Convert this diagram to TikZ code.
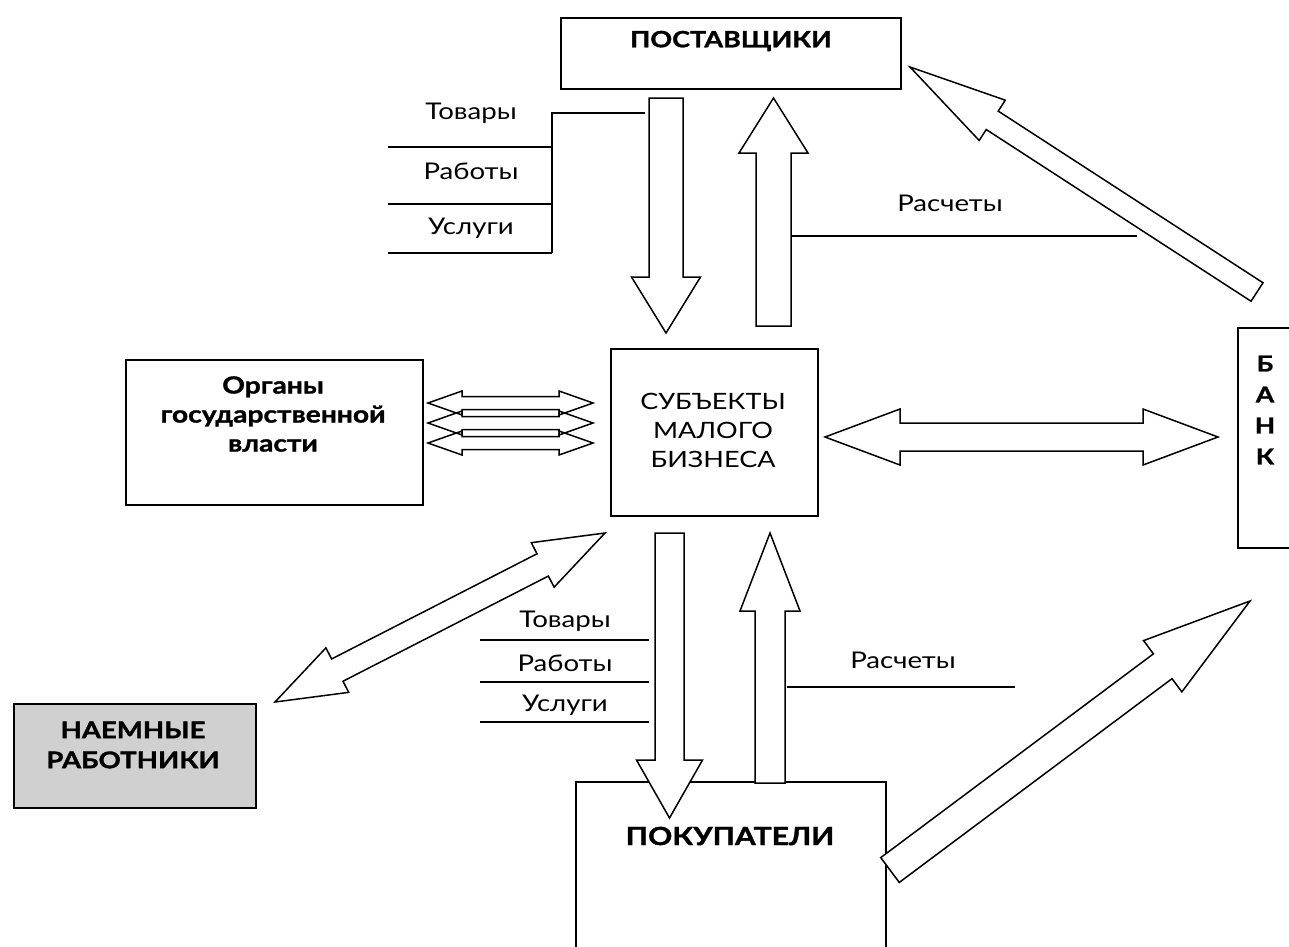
\documentclass[tikz,border=0pt]{standalone}
\usepackage{fontspec}
\setmainfont{Lato}[FakeStretch=1.2, BoldFeatures={FakeBold=1.3}]
\usetikzlibrary{calc}
\definecolor{boxgray}{RGB}{208,208,208}
\tikzset{
  box/.style={draw, line width=1.8pt, inner sep=0pt},
  lbl/.style={font=\fontsize{23}{26}\selectfont, inner sep=0pt},
  blbl/.style={font=\fontsize{23}{30}\selectfont\bfseries, inner sep=0pt, align=center},
  rlbl/.style={font=\fontsize{22.5}{29}\selectfont, inner sep=0pt, align=center},
  barrow/.style={draw, line width=1.5pt, fill=white, line join=miter},
  oarrow/.style={draw, line width=1.5pt, line join=miter},
  rule/.style={line width=1.8pt}
}
\newcommand\singlearrow[5]{% tail, tip, shaft half, head half, head length
  \path ($(#2)!#5!(#1)$) coordinate (hb);
  \draw[barrow] ($(#1)!#3!90:(#2)$) -- ($(hb)!#3!90:(#2)$) -- ($(hb)!#4!90:(#2)$) -- (#2)
    -- ($(hb)!#4!-90:(#2)$) -- ($(hb)!#3!-90:(#2)$) -- ($(#1)!#3!-90:(#2)$) -- cycle;
}
\newcommand\doublearrow[6]{% A, B, shaft half, head half, head length, style
  \path ($(#1)!#5!(#2)$) coordinate (ha) ($(#2)!#5!(#1)$) coordinate (hb);
  \draw[#6] (#1) -- ($(ha)!#4!90:(#2)$) -- ($(ha)!#3!90:(#2)$) -- ($(hb)!#3!90:(#2)$)
    -- ($(hb)!#4!90:(#2)$) -- (#2) -- ($(hb)!#4!-90:(#2)$) -- ($(hb)!#3!-90:(#2)$)
    -- ($(ha)!#3!-90:(#2)$) -- ($(ha)!#4!-90:(#2)$) -- cycle;
}
\begin{document}
\begin{tikzpicture}[x=1pt,y=-1pt]
\useasboundingbox (0,0) rectangle (1289,946);

% boxes
\node[box, anchor=north west, minimum width=340pt, minimum height=71pt] (post) at (560,17) {};
\node[box, anchor=north west, minimum width=297pt, minimum height=145pt] (gov) at (125,359) {};
\node[box, anchor=north west, minimum width=207pt, minimum height=167pt] (smb) at (610,348) {};
\node[box, anchor=north west, minimum width=80pt, minimum height=220pt] (bank) at (1237,327) {};
\node[box, fill=boxgray, anchor=north west, minimum width=242pt, minimum height=104pt] (hire) at (13,703) {};
\node[box, anchor=north west, minimum width=310pt, minimum height=200pt] (buy) at (575,781) {};

% box texts
\node[blbl, font=\fontsize{22.5}{30}\selectfont\bfseries] (postt) at (731,41) {ПОСТАВЩИКИ};
\node[blbl, font=\fontsize{23.5}{29}\selectfont\bfseries] (govt) at (273,414) {Органы\\государственной\\власти};
\node[rlbl] (smbt) at (713,430) {СУБЪЕКТЫ\\МАЛОГО\\БИЗНЕСА};
\node[blbl, font=\fontsize{22}{31}\selectfont\bfseries] (bankt) at (1265,410) {Б\\А\\Н\\К};
\node[blbl] (hiret) at (133,745) {НАЕМНЫЕ\\РАБОТНИКИ};
\node[blbl, font=\fontsize{25}{30}\selectfont\bfseries] (buyt) at (730,836) {ПОКУПАТЕЛИ};

% top goods lines
\coordinate (g1) at (552,113);
\coordinate (g2) at (645,113);
\coordinate (g3) at (552,253);
\draw[rule] (g2) -- (g1) -- (g3);
\draw[rule] (388,147) coordinate (ga) -- (552,147);
\draw[rule] (388,204) coordinate (gb) -- (552,204);
\draw[rule] (388,253) coordinate (gc) -- (g3);
\node[lbl] (tov1) at (471,113) {Товары};
\node[lbl] (rab1) at (471,171) {Работы};
\node[lbl] (usl1) at (471,228) {Услуги};

% top payments line
\coordinate (p1) at (791,236);
\coordinate (p2) at (1137,236);
\draw[rule] (p1) -- (p2);
\node[lbl] (ras1) at (950,203) {Расчеты};

% bottom goods lines
\draw[rule] (480,640) coordinate (b1) -- (649,640) coordinate (b1e);
\draw[rule] (480,682) coordinate (b2) -- (649,682) coordinate (b2e);
\draw[rule] (480,722) coordinate (b3) -- (649,722) coordinate (b3e);
\node[lbl] (tov2) at (565,621) {Товары};
\node[lbl] (rab2) at (565,663) {Работы};
\node[lbl] (usl2) at (565,705) {Услуги};

% bottom payments line
\coordinate (q1) at (787,687);
\coordinate (q2) at (1015,687);
\draw[rule] (q1) -- (q2);
\node[lbl] (ras2) at (903,660) {Расчеты};

% arrow end points
\coordinate (a1s) at (666,98);   \coordinate (a1e) at (666,333);
\coordinate (a2s) at (773.5,326); \coordinate (a2e) at (773.5,98);
\coordinate (a3s) at (1257,292); \coordinate (a3e) at (910,67);
\coordinate (a4s) at (669.5,533); \coordinate (a4e) at (669.5,818);
\coordinate (a5s) at (770,783);  \coordinate (a5e) at (770,533);
\coordinate (a6s) at (890,870);  \coordinate (a6e) at (1250,601);
\coordinate (d1a) at (275,702);  \coordinate (d1b) at (605,533);
\coordinate (d2a) at (825,437);  \coordinate (d2b) at (1218,437);
\coordinate (s1a) at (428,403);  \coordinate (s1b) at (593,403);
\coordinate (s2a) at (428,423);  \coordinate (s2b) at (593,423);
\coordinate (s3a) at (428,443);  \coordinate (s3b) at (593,443);

% arrows
\singlearrow{a1s}{a1e}{17pt}{34.5pt}{56pt}
\singlearrow{a2s}{a2e}{17.5pt}{34.5pt}{55pt}
\singlearrow{a3s}{a3e}{11pt}{24pt}{98pt}
\singlearrow{a4s}{a4e}{14.5pt}{33pt}{58pt}
\singlearrow{a5s}{a5e}{15pt}{30pt}{78pt}
\singlearrow{a6s}{a6e}{15.5pt}{32pt}{109pt}
\doublearrow{d1a}{d1b}{12.5pt}{25pt}{70pt}{barrow}
\doublearrow{d2a}{d2b}{14pt}{28pt}{75pt}{barrow}
\doublearrow{s1a}{s1b}{6.5pt}{12pt}{34pt}{oarrow}
\doublearrow{s2a}{s2b}{6.5pt}{12pt}{34pt}{oarrow}
\doublearrow{s3a}{s3b}{6.5pt}{12pt}{34pt}{oarrow}
\end{tikzpicture}
\end{document}
